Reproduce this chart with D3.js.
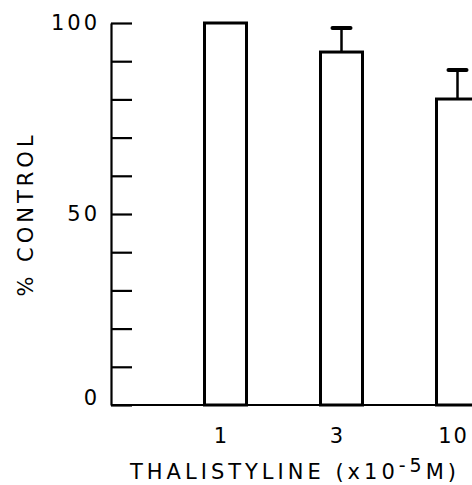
<!DOCTYPE html>
<html>
<head>
<meta charset="utf-8">
<script src="https://cdn.jsdelivr.net/npm/d3@7/dist/d3.min.js"></script>
<style>
  html, body { margin: 0; padding: 0; background: #fff; }
  svg { display: block; }
  text { font-family: "DejaVu Sans", sans-serif; fill: #000; }
</style>
</head>
<body>
<svg id="chart" width="472" height="485"></svg>
<script>
// ---- data ----
const categories = ["1", "3", "10"];
const means = [100, 92.4, 80.1];
const errors = [0, 6.3, 7.6];
const yTickValues = [0, 10, 20, 30, 40, 50, 60, 70, 80, 90, 100];
const yTickLabels = [0, 50, 100];
const xTitle = "THALISTYLINE (x10";
const xTitleSup = "-5";
const xTitleEnd = "M)";
const yTitle = "% CONTROL";

// ---- layout ----
const svg = d3.select("#chart");
const axisX0 = 111;
const y = d3.scaleLinear().domain([0, 100]).range([405, 23]);
const x = d3.scalePoint().domain(categories).range([225.5, 457.5]);
const barW = 42;

// y axis
const yAxis = d3.axisLeft(y)
  .tickValues(yTickValues)
  .tickSizeInner(-21)
  .tickSizeOuter(0)
  .tickPadding(11)
  .tickFormat(d => yTickLabels.includes(d) ? String(d) : "");
const gy = svg.append("g").attr("transform", `translate(${axisX0},0)`).call(yAxis);
gy.select(".domain").attr("stroke", "#000").attr("stroke-width", 2.2);
gy.selectAll(".tick line").attr("stroke", "#000").attr("stroke-width", 2.2);
gy.selectAll(".tick text")
  .style("font-size", "21px")
  .style("letter-spacing", "3px")
  .attr("dy", d => d === 0 ? "-0.02em" : "0.32em");

// x axis baseline
svg.append("line")
  .attr("x1", axisX0).attr("x2", 480)
  .attr("y1", y(0)).attr("y2", y(0))
  .attr("stroke", "#000").attr("stroke-width", 2.2);

// bars
svg.selectAll("rect.bar").data(categories).enter().append("rect")
  .attr("class", "bar")
  .attr("x", d => x(d) - barW / 2)
  .attr("width", barW)
  .attr("y", (d, i) => y(means[i]))
  .attr("height", (d, i) => y(0) - y(means[i]))
  .attr("fill", "#fff")
  .attr("stroke", "#000")
  .attr("stroke-width", 3);

// error bars
const errData = categories.map((c, i) => ({ c, m: means[i], e: errors[i] })).filter(d => d.e > 0);
const eb = svg.selectAll("g.err").data(errData).enter().append("g").attr("class", "err");
eb.append("line")
  .attr("x1", d => x(d.c)).attr("x2", d => x(d.c))
  .attr("y1", d => y(d.m))
  .attr("y2", d => y(d.m + d.e))
  .attr("stroke", "#000").attr("stroke-width", 2.5);
eb.append("line")
  .attr("x1", d => x(d.c) - 9).attr("x2", d => x(d.c) + 9)
  .attr("y1", d => y(d.m + d.e))
  .attr("y2", d => y(d.m + d.e))
  .attr("stroke", "#000").attr("stroke-width", 4).attr("stroke-linecap", "round");

// x tick labels
svg.selectAll("text.xl").data(categories).enter().append("text")
  .attr("class", "xl")
  .attr("x", d => x(d) - 4)
  .attr("y", 443)
  .attr("text-anchor", "middle")
  .style("font-size", "21px")
  .style("letter-spacing", "2px")
  .text(d => d);

// x title
const xt = svg.append("text")
  .attr("x", 130).attr("y", 479)
  .style("font-size", "21px")
  .style("letter-spacing", "4px");
xt.append("tspan").text(xTitle);
xt.append("tspan").attr("dy", -7).style("font-size", "19px").text(xTitleSup);
xt.append("tspan").attr("dy", 7).text(xTitleEnd);

// y title
svg.append("text")
  .attr("transform", "translate(33,214) rotate(-90)")
  .attr("text-anchor", "middle")
  .style("font-size", "21px")
  .style("letter-spacing", "4px")
  .text(yTitle);
</script>
</body>
</html>
